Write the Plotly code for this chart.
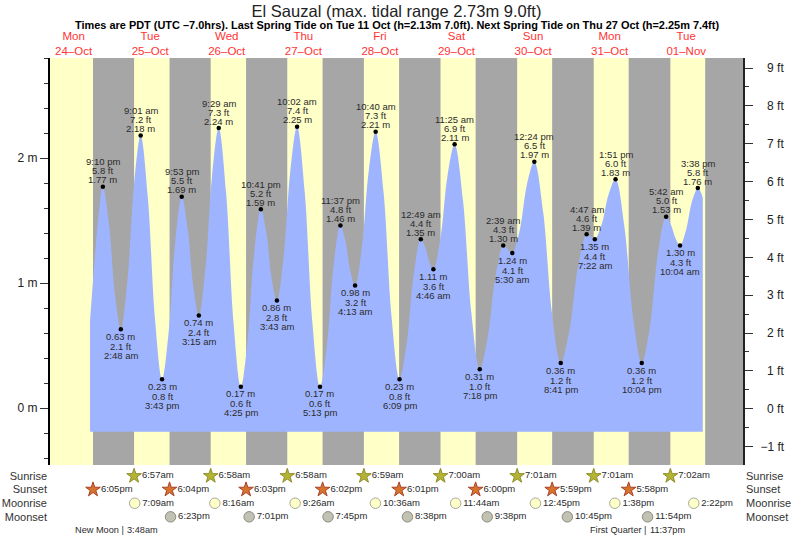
#!/usr/bin/env python3
# -*- coding: utf-8 -*-
"""
Tide chart for El Sauzal, 24 Oct - 1 Nov 2022, drawn with Plotly.
"""

import plotly.graph_objects as go

# --- high and low waters ---
tide_times = [
    "2022-10-24 21:10", "2022-10-25 02:48", "2022-10-25 09:01", "2022-10-25 15:43",
    "2022-10-25 21:53", "2022-10-26 03:15", "2022-10-26 09:29", "2022-10-26 16:25",
    "2022-10-26 22:41", "2022-10-27 03:43", "2022-10-27 10:02", "2022-10-27 17:13",
    "2022-10-27 23:37", "2022-10-28 04:13", "2022-10-28 10:40", "2022-10-28 18:09",
    "2022-10-29 00:49", "2022-10-29 04:46", "2022-10-29 11:25", "2022-10-29 19:18",
    "2022-10-30 02:39", "2022-10-30 05:30", "2022-10-30 12:24", "2022-10-30 20:41",
    "2022-10-31 04:47", "2022-10-31 07:22", "2022-10-31 13:51", "2022-10-31 22:04",
    "2022-11-01 05:42", "2022-11-01 10:04", "2022-11-01 15:38",
]
tide_m = [
    1.77, 0.63, 2.18, 0.23, 1.69, 0.74, 2.24, 0.17, 1.59, 0.86, 2.25, 0.17,
    1.46, 0.98, 2.21, 0.23, 1.35, 1.11, 2.11, 0.31, 1.30, 1.24, 1.97, 0.36,
    1.39, 1.35, 1.83, 0.36, 1.53, 1.30, 1.76,
]
tide_ft = [
    5.8, 2.1, 7.2, 0.8, 5.5, 2.4, 7.3, 0.6, 5.2, 2.8, 7.4, 0.6,
    4.8, 3.2, 7.3, 0.8, 4.4, 3.6, 6.9, 1.0, 4.3, 4.1, 6.5, 1.2,
    4.6, 4.4, 6.0, 1.2, 5.0, 4.3, 5.8,
]
tide_clock = [
    "9:10 pm", "2:48 am", "9:01 am", "3:43 pm", "9:53 pm", "3:15 am", "9:29 am", "4:25 pm",
    "10:41 pm", "3:43 am", "10:02 am", "5:13 pm", "11:37 pm", "4:13 am", "10:40 am", "6:09 pm",
    "12:49 am", "4:46 am", "11:25 am", "7:18 pm", "2:39 am", "5:30 am", "12:24 pm", "8:41 pm",
    "4:47 am", "7:22 am", "1:51 pm", "10:04 pm", "5:42 am", "10:04 am", "3:38 pm",
]

curve_times = [
    "2022-10-24 17:09", "2022-10-24 18:20", "2022-10-24 19:40", "2022-10-24 21:10",
    "2022-10-24 23:03", "2022-10-25 00:55", "2022-10-25 02:48", "2022-10-25 04:52",
    "2022-10-25 06:57", "2022-10-25 09:01", "2022-10-25 11:15", "2022-10-25 13:29",
    "2022-10-25 15:43", "2022-10-25 17:46", "2022-10-25 19:50", "2022-10-25 21:53",
    "2022-10-25 23:40", "2022-10-26 01:28", "2022-10-26 03:15", "2022-10-26 05:20",
    "2022-10-26 07:24", "2022-10-26 09:29", "2022-10-26 11:48", "2022-10-26 14:06",
    "2022-10-26 16:25", "2022-10-26 18:30", "2022-10-26 20:36", "2022-10-26 22:41",
    "2022-10-27 00:22", "2022-10-27 02:02", "2022-10-27 03:43", "2022-10-27 05:49",
    "2022-10-27 07:56", "2022-10-27 10:02", "2022-10-27 12:26", "2022-10-27 14:49",
    "2022-10-27 17:13", "2022-10-27 19:21", "2022-10-27 21:29", "2022-10-27 23:37",
    "2022-10-28 01:09", "2022-10-28 02:41", "2022-10-28 04:13", "2022-10-28 06:22",
    "2022-10-28 08:31", "2022-10-28 10:40", "2022-10-28 13:10", "2022-10-28 15:39",
    "2022-10-28 18:09", "2022-10-28 20:22", "2022-10-28 22:36", "2022-10-29 00:49",
    "2022-10-29 02:08", "2022-10-29 03:27", "2022-10-29 04:46", "2022-10-29 06:59",
    "2022-10-29 09:12", "2022-10-29 11:25", "2022-10-29 14:03", "2022-10-29 16:40",
    "2022-10-29 19:18", "2022-10-29 21:45", "2022-10-30 00:12", "2022-10-30 02:39",
    "2022-10-30 03:36", "2022-10-30 04:33", "2022-10-30 05:30", "2022-10-30 07:48",
    "2022-10-30 10:06", "2022-10-30 12:24", "2022-10-30 15:10", "2022-10-30 17:55",
    "2022-10-30 20:41", "2022-10-30 23:23", "2022-10-31 02:05", "2022-10-31 04:47",
    "2022-10-31 05:39", "2022-10-31 06:30", "2022-10-31 07:22", "2022-10-31 09:32",
    "2022-10-31 11:41", "2022-10-31 13:51", "2022-10-31 16:35", "2022-10-31 19:20",
    "2022-10-31 22:04", "2022-11-01 00:37", "2022-11-01 03:09", "2022-11-01 05:42",
    "2022-11-01 07:09", "2022-11-01 08:37", "2022-11-01 10:04", "2022-11-01 11:55",
    "2022-11-01 13:47", "2022-11-01 15:38", "2022-11-01 16:25", "2022-11-01 17:12",
]
curve_m = [
    0.70, 1.10, 1.50, 1.77, 1.48, 0.92, 0.63, 1.02, 1.79, 2.18, 1.69, 0.72,
    0.23, 0.60, 1.32, 1.69, 1.45, 0.98, 0.74, 1.12, 1.86, 2.24, 1.72, 0.69,
    0.17, 0.53, 1.24, 1.59, 1.41, 1.04, 0.86, 1.21, 1.90, 2.25, 1.73, 0.69,
    0.17, 0.49, 1.14, 1.46, 1.34, 1.10, 0.98, 1.29, 1.90, 2.21, 1.72, 0.73,
    0.23, 0.51, 1.07, 1.35, 1.29, 1.17, 1.11, 1.36, 1.86, 2.11, 1.66, 0.76,
    0.31, 0.56, 1.05, 1.30, 1.285, 1.255, 1.24, 1.42, 1.79, 1.97, 1.57, 0.76,
    0.36, 0.62, 1.13, 1.39, 1.38, 1.36, 1.35, 1.47, 1.71, 1.83, 1.46, 0.73,
    0.36, 0.65, 1.24, 1.53, 1.47, 1.36, 1.30, 1.42, 1.65, 1.76, 1.735, 1.68,
]
fill_floor_m = -0.19

# --- sun and moon rows ---
sunrise_times = [
    "2022-10-25 06:57", "2022-10-26 06:58", "2022-10-27 06:58", "2022-10-28 06:59",
    "2022-10-29 07:00", "2022-10-30 07:01", "2022-10-31 07:01", "2022-11-01 07:02",
]
sunrise_labels = ["6:57am", "6:58am", "6:58am", "6:59am", "7:00am", "7:01am", "7:01am", "7:02am"]
sunset_times = [
    "2022-10-24 18:05", "2022-10-25 18:04", "2022-10-26 18:03", "2022-10-27 18:02",
    "2022-10-28 18:01", "2022-10-29 18:00", "2022-10-30 17:59", "2022-10-31 17:58",
]
sunset_labels = ["6:05pm", "6:04pm", "6:03pm", "6:02pm", "6:01pm", "6:00pm", "5:59pm", "5:58pm"]
last_dusk = "2022-11-01 17:57"  # only visible as the start of the last grey band
last_dawn = "2022-11-02 07:03"  # past the right edge of the plot
moonrise_times = [
    "2022-10-25 07:09", "2022-10-26 08:16", "2022-10-27 09:26", "2022-10-28 10:36",
    "2022-10-29 11:44", "2022-10-30 12:45", "2022-10-31 13:38", "2022-11-01 14:22",
]
moonrise_labels = ["7:09am", "8:16am", "9:26am", "10:36am", "11:44am", "12:45pm", "1:38pm", "2:22pm"]
moonset_times = [
    "2022-10-25 18:23", "2022-10-26 19:01", "2022-10-27 19:45", "2022-10-28 20:38",
    "2022-10-29 21:38", "2022-10-30 22:45", "2022-10-31 23:54",
]
moonset_labels = ["6:23pm", "7:01pm", "7:45pm", "8:38pm", "9:38pm", "10:45pm", "11:54pm"]
row_names = ["Sunrise", "Sunset", "Moonrise", "Moonset"]

phase_times = ["2022-10-25 03:48", "2022-10-31 23:37"]
phase_before = ["New Moon |", "First Quarter |"]
phase_after = ["3:48am", "11:37pm"]

# --- axes ---
day_noons = [
    "2022-10-24 12:00", "2022-10-25 12:00", "2022-10-26 12:00", "2022-10-27 12:00",
    "2022-10-28 12:00", "2022-10-29 12:00", "2022-10-30 12:00", "2022-10-31 12:00",
    "2022-11-01 12:00",
]
day_labels = [
    "Mon<br>24–Oct", "Tue<br>25–Oct", "Wed<br>26–Oct", "Thu<br>27–Oct", "Fri<br>28–Oct",
    "Sat<br>29–Oct", "Sun<br>30–Oct", "Mon<br>31–Oct", "Tue<br>01–Nov",
]
metre_ticks = [0, 1, 2]
metre_labels = ["0 m", "1 m", "2 m"]
feet_ticks = [-1, 0, 1, 2, 3, 4, 5, 6, 7, 8, 9]
# figure space in front so the labels line up on the right like the original
feet_labels = ["−1 ft", "\u20070 ft", "\u20071 ft", "\u20072 ft", "\u20073 ft", "\u20074 ft",
               "\u20075 ft", "\u20076 ft", "\u20077 ft", "\u20078 ft", "\u20079 ft"]

FONT = "Liberation Sans"
TEXT = "#2b2b2b"
GREY = "#a6a6a6"
YELLOW = "#ffffc8"
BLUE = "#9fb4ff"
M_RANGE = [-0.456, 2.8]
FT_RANGE = [-1.487, 9.265]  # the feet scale is a touch off the metre scale in the original
PLOT_BOTTOM = 74 / 481

fig = go.Figure()

# flat line the tide area closes against
fig.add_trace(go.Scatter(
    x=[curve_times[0], curve_times[-1]], y=[fill_floor_m, fill_floor_m],
    mode="lines", line=dict(width=0), hoverinfo="skip",
))
fig.add_trace(go.Scatter(
    x=curve_times, y=curve_m, mode="lines",
    line=dict(width=0, shape="spline", smoothing=1.0, color=BLUE),
    fill="tonexty", fillcolor=BLUE, hoverinfo="skip",
))
fig.add_trace(go.Scatter(
    x=tide_times, y=tide_m, mode="markers",
    marker=dict(size=4.5, color="black"),
    text=tide_clock, hoverinfo="text+y",
))

# right hand axis in feet, needs a trace to show up
fig.add_trace(go.Scatter(
    x=[tide_times[0]], y=[tide_ft[0]], yaxis="y2", mode="markers",
    marker=dict(size=1, opacity=0), hoverinfo="skip",
))

# sun and moon rows live on their own small axis under the plot
rows = [
    (sunrise_times, sunrise_labels, "star", 11, "#b5b334", "#8f8f2c"),
    (sunset_times, sunset_labels, "star", 11, "#d9722a", "#a5432a"),
    (moonrise_times, moonrise_labels, "circle", 10.5, "#ffffc8", "#a8a8a0"),
    (moonset_times, moonset_labels, "circle", 10.5, "#c2c2b2", "#8c8c84"),
]
for i, (times, labels, symbol, size, fill, edge) in enumerate(rows):
    fig.add_trace(go.Scatter(
        x=times, y=[i] * len(times), yaxis="y3", mode="markers+text",
        marker=dict(symbol=symbol, size=size, color=fill, line=dict(color=edge, width=1)),
        text=labels, textposition="middle right",
        textfont=dict(family=FONT, size=9.5, color=TEXT),
        cliponaxis=False, hoverinfo="text",
    ))
# second row axis only to repeat the names on the right
fig.add_trace(go.Scatter(
    x=[sunrise_times[0]], y=[0], yaxis="y4", mode="markers",
    marker=dict(size=1, opacity=0), hoverinfo="skip",
))

# day background, then the night bands on top of it
shapes = [dict(type="rect", xref="paper", yref="paper", x0=0, x1=1, y0=PLOT_BOTTOM, y1=1,
               fillcolor=YELLOW, line=dict(width=0), layer="below")]
for d0, d1 in zip(sunset_times + [last_dusk], sunrise_times + [last_dawn]):
    shapes.append(dict(type="rect", xref="x", yref="paper", x0=d0, x1=d1, y0=PLOT_BOTTOM, y1=1,
                       fillcolor=GREY, line=dict(width=0), layer="below"))

# three text lines at every high and low water
annotations = []
for i, (t, m, ft, clock) in enumerate(zip(tide_times, tide_m, tide_ft, tide_clock)):
    is_high = (i % 2) == 0
    lines = [f"{m:.2f} m", f"{ft:.1f} ft", clock]
    shifts = [7, 16, 25] if is_high else [-7, -17, -26]
    for line, shift in zip(lines, shifts):
        annotations.append(dict(
            x=t, y=m, xref="x", yref="y", text=line, showarrow=False,
            yshift=shift, yanchor="middle", xanchor="center",
            font=dict(family=FONT, size=9.5, color=TEXT),
        ))

# moon phases, the bar sits on the event time
for t, before, after in zip(phase_times, phase_before, phase_after):
    annotations.append(dict(
        x=t, y=4, xref="x", yref="y3", text=before, showarrow=False,
        xanchor="right", yanchor="middle", xshift=2,
        font=dict(family=FONT, size=9.2, color=TEXT),
    ))
    annotations.append(dict(
        x=t, y=4, xref="x", yref="y3", text=after, showarrow=False,
        xanchor="left", yanchor="middle", xshift=1,
        font=dict(family=FONT, size=9.2, color=TEXT),
    ))

annotations.append(dict(
    x=0.5, y=1, xref="paper", yref="paper", yanchor="middle", yshift=33, showarrow=False,
    text="Times are PDT (UTC –7.0hrs). Last Spring Tide on Tue 11 Oct (h=2.13m 7.0ft). "
         "Next Spring Tide on Thu 27 Oct (h=2.25m 7.4ft)",
    font=dict(family=FONT, size=10.95, color="black", weight="bold"),
))

fig.update_layout(
    width=793, height=539,
    margin=dict(l=50, r=50, t=58, b=0, pad=0),
    paper_bgcolor="white",
    plot_bgcolor="white",
    showlegend=False,
    title=dict(
        text="El Sauzal (max. tidal range 2.73m 9.0ft)",
        x=0.5, xanchor="center", xref="paper", y=0.979, yanchor="middle",
        font=dict(family=FONT, size=16.5, color="#222222"),
    ),
    xaxis=dict(
        type="date", side="top", anchor="y",
        range=["2022-10-24 04:36", "2022-11-02 05:48"],
        tickvals=day_noons, ticktext=day_labels,
        tickfont=dict(family=FONT, size=11.5, color="#ff3333"),
        ticks="", showgrid=False, zeroline=False, showline=False,
    ),
    yaxis=dict(
        domain=[PLOT_BOTTOM, 1], range=M_RANGE, anchor="x",
        tickvals=metre_ticks, ticktext=metre_labels,
        tickfont=dict(family=FONT, size=12, color="#222222"),
        ticks="outside", ticklen=8, tickwidth=1, tickcolor="#333333",
        minor=dict(dtick=0.2, ticks="outside", ticklen=4, tickwidth=1, tickcolor="#333333", showgrid=False),
        showline=True, linewidth=2, linecolor="black", showgrid=False, zeroline=False,
    ),
    yaxis2=dict(
        domain=[PLOT_BOTTOM, 1], range=FT_RANGE,
        overlaying="y", side="right", anchor="x",
        tickvals=feet_ticks, ticktext=feet_labels,
        tickfont=dict(family=FONT, size=12, color="#222222"), ticklabelstandoff=5,
        ticks="outside", ticklen=8, tickwidth=1, tickcolor="#333333",
        minor=dict(dtick=0.5, ticks="outside", ticklen=4, tickwidth=1, tickcolor="#333333", showgrid=False),
        showline=True, linewidth=2, linecolor="#222222", showgrid=False, zeroline=False,
    ),
    yaxis3=dict(
        domain=[0, PLOT_BOTTOM], range=[4.63, -0.81], anchor="x",
        tickvals=[0, 1, 2, 3], ticktext=row_names,
        tickfont=dict(family=FONT, size=11, color="#333333"), ticklabelstandoff=2,
        ticks="", showgrid=False, zeroline=False, showline=False,
    ),
    yaxis4=dict(
        domain=[0, PLOT_BOTTOM], range=[4.63, -0.81], anchor="x", overlaying="y3", side="right",
        tickvals=[0, 1, 2, 3], ticktext=row_names,
        tickfont=dict(family=FONT, size=11, color="#333333"), ticklabelstandoff=2,
        ticks="", showgrid=False, zeroline=False, showline=False,
    ),
    shapes=shapes,
    annotations=annotations,
)

fig.write_html("out.html", config={"displayModeBar": False},
               post_script="document.body.style.margin='0';")
